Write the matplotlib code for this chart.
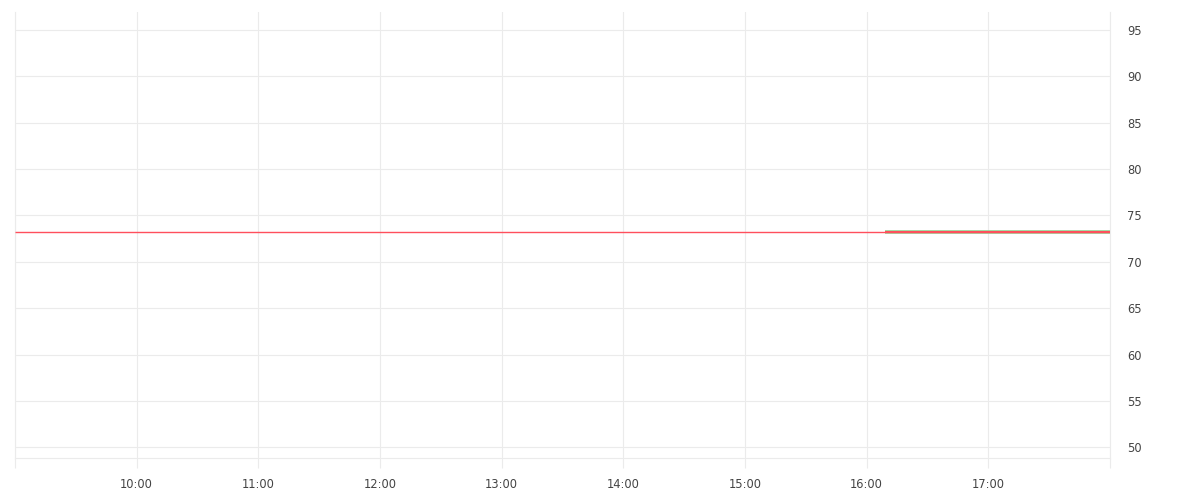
import datetime as dt
import matplotlib
matplotlib.use('Agg')
import matplotlib.pyplot as plt

# readings (flat series)
red_times = ["09:00", "18:00"]
red_values = [73.2, 73.2]
green_times = ["16:09", "18:00"]
green_values = [73.2, 73.2]

yticks = [50, 55, 60, 65, 70, 75, 80, 85, 90, 95]
hour_ticks = ["09:00", "10:00", "11:00", "12:00", "13:00", "14:00",
              "15:00", "16:00", "17:00", "18:00"]
shown_hours = ["10:00", "11:00", "12:00", "13:00", "14:00", "15:00", "16:00", "17:00"]

day = dt.date(2024, 1, 2)


def to_dt(s):
    h, m = s.split(":")
    return dt.datetime(day.year, day.month, day.day, int(h), int(m))


GRID = "#ebebeb"
TEXT = "#444444"
RED = "#ff4f5c"

fig = plt.figure(figsize=(12, 5), dpi=100)
ax = fig.add_axes([15 / 1200, 42 / 500, 1095 / 1200, 446 / 500])

ax.plot([to_dt(t) for t in green_times], green_values, color="#8fd18f", lw=2.6,
        solid_capstyle="butt", zorder=3)
ax.plot([to_dt(t) for t in red_times], red_values, color=RED, lw=1.0,
        solid_capstyle="butt", zorder=4)
ax.plot([to_dt(t) for t in green_times], green_values, color=RED, lw=1.4,
        solid_capstyle="butt", zorder=4)

ax.set_xlim(to_dt("09:00"), to_dt("18:00"))
ax.set_ylim(48.85, 96.94)

ax.set_xticks([to_dt(t) for t in hour_ticks])
ax.set_xticklabels([t if t in shown_hours else "" for t in hour_ticks])
ax.set_yticks(yticks)
ax.yaxis.tick_right()

ax.grid(True, color=GRID, lw=0.8)
ax.tick_params(axis="x", length=7.2, width=0.8, color=GRID, pad=7.5,
               labelsize=8.3, labelcolor=TEXT)
ax.tick_params(axis="y", length=0, pad=12.5, labelsize=8.3, labelcolor=TEXT)
for lbl in ax.get_yticklabels():
    lbl.set_horizontalalignment("left")

ax.spines["top"].set_visible(False)
for side in ("left", "right", "bottom"):
    ax.spines[side].set_color(GRID)
    ax.spines[side].set_linewidth(0.8)

fig.savefig("out.png", dpi=100, facecolor="white")
